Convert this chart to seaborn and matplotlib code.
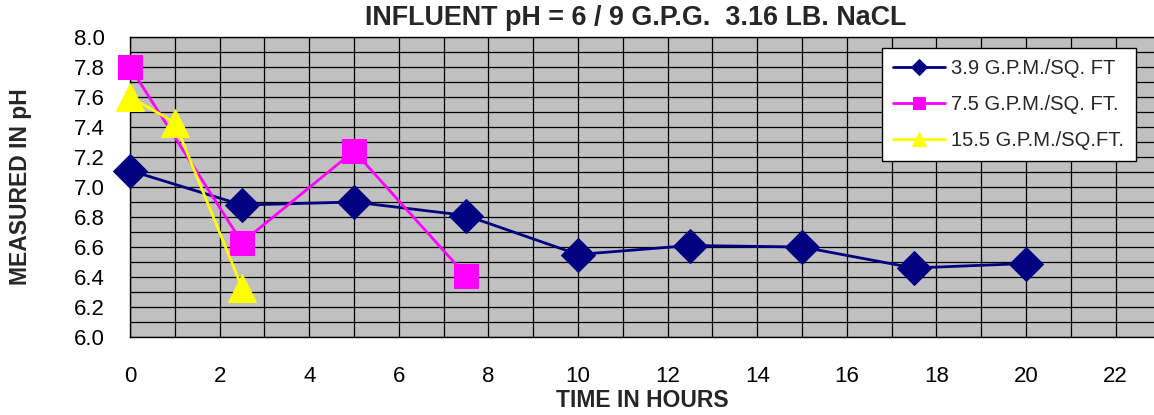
import matplotlib
matplotlib.use("Agg")
import matplotlib.pyplot as plt
import seaborn as sns
import pandas as pd
import numpy as np
from matplotlib.ticker import MultipleLocator

# Data
hours_a = [0, 2.5, 5, 7.5, 10, 12.5, 15, 17.5, 20]
ph_a = [7.11, 6.88, 6.90, 6.81, 6.55, 6.61, 6.60, 6.46, 6.49]
hours_b = [0, 2.5, 5, 7.5]
ph_b = [7.80, 6.63, 7.24, 6.41]
hours_c = [0, 1, 2.5]
ph_c = [7.60, 7.43, 6.33]
labels = ["3.9 G.P.M./SQ. FT", "7.5 G.P.M./SQ. FT.", "15.5 G.P.M./SQ.FT."]
colors = ["#000080", "#FF00FF", "#FFFF00"]
markers = ["D", "s", "^"]
msizes = [17, 17, 19.5]
x_ticks = list(range(0, 23, 2))
y_ticks = [round(6.0 + 0.2 * i, 1) for i in range(11)]

sns.set_style("white")
plt.rcParams['font.family'] = ['Liberation Sans', 'DejaVu Sans']

fig = plt.figure(figsize=(11.54, 4.15), dpi=100)
ax = fig.add_axes([130 / 1154, 1 - 337 / 415, 1 - 130 / 1154, 300 / 415])
ax.set_facecolor("#C0C0C0")

series = [(hours_a, ph_a), (hours_b, ph_b), (hours_c, ph_c)]
for (xs, ys), lab, col, mk, ms in zip(series, labels, colors, markers, msizes):
    df = pd.DataFrame({"x": xs, "y": ys})
    sns.lineplot(data=df, x="x", y="y", ax=ax, color=col, marker=mk,
                 markersize=ms, markeredgecolor=col, linewidth=2, label=lab,
                 zorder=3)
for ln in ax.get_lines():
    ln.set_clip_on(False)

ax.set_xlim(0, 1024 / 44.8)
ax.set_ylim(6.0, 8.0)
ax.xaxis.set_minor_locator(MultipleLocator(1))
ax.yaxis.set_minor_locator(MultipleLocator(0.1))
ax.set_xticks(x_ticks)
ax.set_yticks(y_ticks)
ax.set_yticklabels([f"{v:.1f}" for v in y_ticks])
ax.grid(True, which="both", color="black", linewidth=0.9)
ax.set_axisbelow(True)

ax.tick_params(axis="both", which="major", direction="out", length=6, width=1,
               color="black", labelsize=16, labelcolor="black")
ax.tick_params(axis="x", which="major", pad=15)
ax.tick_params(axis="y", which="major", pad=12)
ax.tick_params(axis="both", which="minor", length=0)

for s in ["left", "bottom", "top"]:
    ax.spines[s].set_color("black")
    ax.spines[s].set_linewidth(1)
ax.spines["right"].set_visible(False)

ax.set_xlabel("TIME IN HOURS", fontsize=16.5, fontweight="bold", labelpad=1)
ax.set_ylabel("MEASURED IN pH", fontsize=16.5, fontweight="bold", labelpad=30)
fig.text(636 / 1154, 1 - 18 / 415, "INFLUENT pH = 6 / 9 G.P.G.  3.16 LB. NaCL",
         ha="center", va="center", fontsize=19.4, fontweight="bold")

leg = ax.legend(loc="upper left", bbox_to_anchor=((882 - 130) / 1024, 1 - 11 / 300),
                frameon=True, fancybox=False, edgecolor="black", facecolor="white",
                framealpha=1, fontsize=14.5, markerscale=0.5, handlelength=2.6,
                labelspacing=0.85, borderpad=0.55, handletextpad=0.3, borderaxespad=0)
leg.get_frame().set_linewidth(1)

fig.savefig("out.png", dpi=100)
